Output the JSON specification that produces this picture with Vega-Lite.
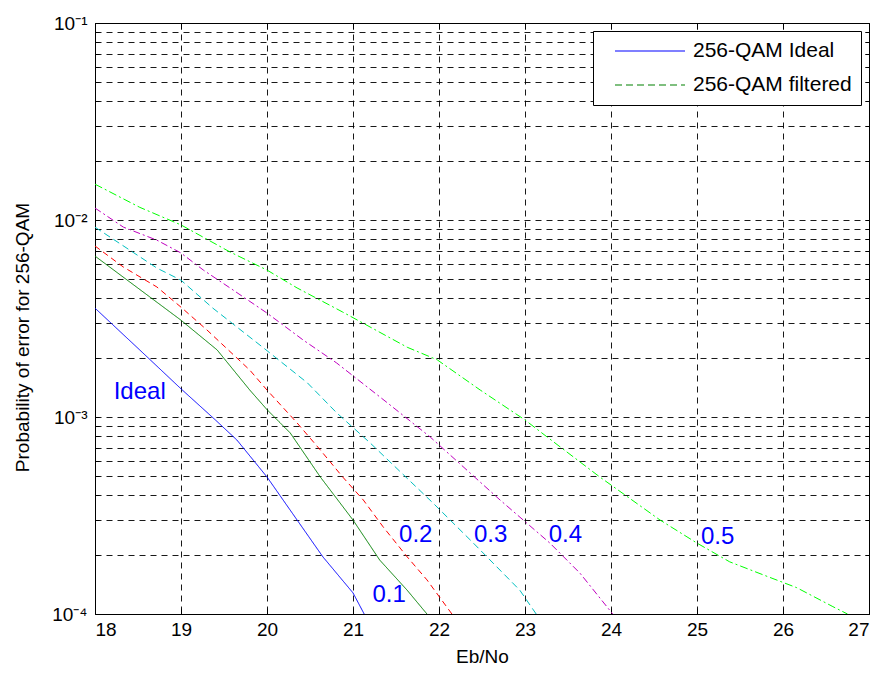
{
  "$schema": "https://vega.github.io/schema/vega-lite/v6.json",
  "width": 774,
  "height": 591,
  "autosize": {"type": "none"},
  "padding": {"left": 95, "top": 23, "right": 13, "bottom": 68},
  "background": "white",
  "config": {
    "font": "Liberation Sans",
    "view": {"stroke": "#000", "strokeWidth": 1},
    "axis": {
      "labelColor": "#000",
      "titleColor": "#000",
      "tickColor": "#000",
      "gridColor": "#000",
      "gridDash": [6, 5],
      "gridOpacity": 0.9,
      "domain": false,
      "titleFontWeight": "normal"
    }
  },
  "datasets": {
    "curves": [
      {"s": "Ideal", "x": 18, "p": 3.57e-3},
      {"s": "Ideal", "x": 18.52, "p": 2.19e-3},
      {"s": "Ideal", "x": 19, "p": 1.39e-3},
      {"s": "Ideal", "x": 19.4, "p": 9.66e-4},
      {"s": "Ideal", "x": 19.65, "p": 7.64e-4},
      {"s": "Ideal", "x": 20, "p": 4.96e-4},
      {"s": "Ideal", "x": 20.35, "p": 3.0e-4},
      {"s": "Ideal", "x": 20.65, "p": 1.95e-4},
      {"s": "Ideal", "x": 21, "p": 1.28e-4},
      {"s": "Ideal", "x": 21.13, "p": 1.0e-4},
      {"s": "0.1", "x": 18, "p": 6.56e-3},
      {"s": "0.1", "x": 19, "p": 3.1e-3},
      {"s": "0.1", "x": 19.42, "p": 2.19e-3},
      {"s": "0.1", "x": 19.8, "p": 1.37e-3},
      {"s": "0.1", "x": 20, "p": 1.09e-3},
      {"s": "0.1", "x": 20.27, "p": 8.3e-4},
      {"s": "0.1", "x": 20.62, "p": 4.96e-4},
      {"s": "0.1", "x": 21, "p": 3.0e-4},
      {"s": "0.1", "x": 21.31, "p": 1.88e-4},
      {"s": "0.1", "x": 21.63, "p": 1.32e-4},
      {"s": "0.1", "x": 21.86, "p": 1.0e-4},
      {"s": "0.2", "x": 18, "p": 7.38e-3},
      {"s": "0.2", "x": 18.33, "p": 5.77e-3},
      {"s": "0.2", "x": 18.72, "p": 4.57e-3},
      {"s": "0.2", "x": 19, "p": 3.61e-3},
      {"s": "0.2", "x": 19.3, "p": 2.77e-3},
      {"s": "0.2", "x": 19.8, "p": 1.73e-3},
      {"s": "0.2", "x": 20, "p": 1.37e-3},
      {"s": "0.2", "x": 20.35, "p": 9.33e-4},
      {"s": "0.2", "x": 20.62, "p": 6.8e-4},
      {"s": "0.2", "x": 20.88, "p": 4.96e-4},
      {"s": "0.2", "x": 21.12, "p": 3.79e-4},
      {"s": "0.2", "x": 21.35, "p": 2.77e-4},
      {"s": "0.2", "x": 21.63, "p": 1.95e-4},
      {"s": "0.2", "x": 21.86, "p": 1.49e-4},
      {"s": "0.2", "x": 22.15, "p": 1.0e-4},
      {"s": "0.3", "x": 18, "p": 9.2e-3},
      {"s": "0.3", "x": 18.72, "p": 5.7e-3},
      {"s": "0.3", "x": 19, "p": 4.95e-3},
      {"s": "0.3", "x": 19.37, "p": 3.57e-3},
      {"s": "0.3", "x": 19.95, "p": 2.26e-3},
      {"s": "0.3", "x": 20.47, "p": 1.49e-3},
      {"s": "0.3", "x": 20.81, "p": 1.05e-3},
      {"s": "0.3", "x": 21.2, "p": 7.38e-4},
      {"s": "0.3", "x": 21.93, "p": 3.66e-4},
      {"s": "0.3", "x": 22.4, "p": 2.29e-4},
      {"s": "0.3", "x": 22.94, "p": 1.32e-4},
      {"s": "0.3", "x": 23.13, "p": 1.0e-4},
      {"s": "0.4", "x": 18, "p": 1.15e-2},
      {"s": "0.4", "x": 18.33, "p": 9.2e-3},
      {"s": "0.4", "x": 18.72, "p": 7.9e-3},
      {"s": "0.4", "x": 19, "p": 6.8e-3},
      {"s": "0.4", "x": 19.26, "p": 5.57e-3},
      {"s": "0.4", "x": 19.57, "p": 4.52e-3},
      {"s": "0.4", "x": 20, "p": 3.37e-3},
      {"s": "0.4", "x": 20.42, "p": 2.46e-3},
      {"s": "0.4", "x": 20.81, "p": 1.88e-3},
      {"s": "0.4", "x": 21.4, "p": 1.18e-3},
      {"s": "0.4", "x": 21.9, "p": 7.9e-4},
      {"s": "0.4", "x": 22.71, "p": 3.79e-4},
      {"s": "0.4", "x": 23.29, "p": 2.29e-4},
      {"s": "0.4", "x": 23.64, "p": 1.61e-4},
      {"s": "0.4", "x": 24.02, "p": 1.0e-4},
      {"s": "0.5", "x": 18, "p": 1.52e-2},
      {"s": "0.5", "x": 18.52, "p": 1.16e-2},
      {"s": "0.5", "x": 19, "p": 9.44e-3},
      {"s": "0.5", "x": 19.57, "p": 6.88e-3},
      {"s": "0.5", "x": 20, "p": 5.57e-3},
      {"s": "0.5", "x": 20.35, "p": 4.52e-3},
      {"s": "0.5", "x": 20.88, "p": 3.41e-3},
      {"s": "0.5", "x": 21.63, "p": 2.26e-3},
      {"s": "0.5", "x": 21.98, "p": 1.95e-3},
      {"s": "0.5", "x": 22.48, "p": 1.37e-3},
      {"s": "0.5", "x": 23.0, "p": 9.66e-4},
      {"s": "0.5", "x": 23.26, "p": 7.9e-4},
      {"s": "0.5", "x": 23.87, "p": 4.96e-4},
      {"s": "0.5", "x": 24.57, "p": 3.0e-4},
      {"s": "0.5", "x": 25, "p": 2.29e-4},
      {"s": "0.5", "x": 25.38, "p": 1.84e-4},
      {"s": "0.5", "x": 25.77, "p": 1.58e-4},
      {"s": "0.5", "x": 26.16, "p": 1.36e-4},
      {"s": "0.5", "x": 26.58, "p": 1.09e-4},
      {"s": "0.5", "x": 26.75, "p": 1.0e-4}
    ],
    "labels": [
      {"t": "Ideal", "x": 18.52, "p": 1.34e-3},
      {"t": "0.1", "x": 21.42, "p": 1.25e-4},
      {"t": "0.2", "x": 21.73, "p": 2.52e-4},
      {"t": "0.3", "x": 22.6, "p": 2.52e-4},
      {"t": "0.4", "x": 23.47, "p": 2.52e-4},
      {"t": "0.5", "x": 25.24, "p": 2.46e-4}
    ]
  },
  "resolve": {"axis": {"x": "independent", "y": "independent"}},
  "layer": [
    {
      "data": {"name": "curves"},
      "mark": {"type": "line", "strokeWidth": 1, "clip": true},
      "encoding": {
        "x": {
          "field": "x", "type": "quantitative",
          "scale": {"domain": [18, 27], "nice": false, "zero": false},
          "axis": {
            "values": [18, 19, 20, 21, 22, 23, 24, 25, 26, 27],
            "grid": true, "tickSize": -6, "labelFontSize": 19, "labelPadding": 12,
            "title": "Eb/No", "titleFontSize": 19, "titlePadding": 8
          }
        },
        "y": {
          "field": "p", "type": "quantitative",
          "scale": {"type": "log", "domain": [0.0001, 0.1], "nice": false},
          "axis": {
            "values": [0.0001, 0.0002, 0.0003, 0.0004, 0.0005, 0.0006, 0.0007, 0.0008, 0.0009, 0.001, 0.002, 0.003, 0.004, 0.005, 0.006, 0.007, 0.008, 0.009, 0.01, 0.02, 0.03, 0.04, 0.05, 0.06, 0.07, 0.08, 0.09, 0.1],
            "labelExpr": "datum.value == 0.1 ? '10⁻¹' : datum.value == 0.01 ? '10⁻²' : datum.value == 0.001 ? '10⁻³' : datum.value == 0.0001 ? '10⁻⁴' : ''",
            "grid": true, "tickSize": -4, "labelFontSize": 19, "labelPadding": 12,
            "title": "Probability of error for 256-QAM", "titleFontSize": 19,
            "titleX": -73, "titleY": 314, "titleBaseline": "middle", "titleAlign": "center", "titleAngle": -90
          }
        },
        "color": {
          "field": "s", "type": "nominal",
          "scale": {
            "domain": ["Ideal", "0.1", "0.2", "0.3", "0.4", "0.5"],
            "range": ["#0000ff", "#008000", "#ff0000", "#00bfbf", "#bf00bf", "#00ff00"]
          },
          "legend": {
            "values": ["Ideal", "0.1"],
            "labelExpr": "datum.value == 'Ideal' ? '256-QAM Ideal' : '256-QAM filtered'",
            "title": null,
            "orient": "top-right",
            "offset": 8,
            "padding": 9,
            "strokeColor": "#000",
            "fillColor": "#fff",
            "symbolType": "stroke",
            "symbolSize": 4900,
            "symbolOffset": 12,
            "symbolStrokeWidth": 1.2,
            "clipHeight": 22,
            "labelFontSize": 21,
            "labelOffset": 7,
            "labelColor": "#000",
            "rowPadding": 12
          }
        },
        "strokeDash": {
          "field": "s", "type": "nominal",
          "scale": {
            "domain": ["Ideal", "0.1", "0.2", "0.3", "0.4", "0.5"],
            "range": [[1, 0], [7, 4], [6, 4], [7, 4], [7, 3, 2, 3], [8, 3, 2, 3]]
          },
          "condition": {"test": "datum.s == '0.1'", "value": [1, 0]},
          "legend": {
            "values": ["Ideal", "0.1"],
            "labelExpr": "datum.value == 'Ideal' ? '256-QAM Ideal' : '256-QAM filtered'",
            "title": null,
            "orient": "top-right",
            "offset": 8,
            "padding": 9,
            "strokeColor": "#000",
            "fillColor": "#fff",
            "symbolType": "stroke",
            "symbolSize": 4900,
            "symbolOffset": 12,
            "symbolStrokeWidth": 1.2,
            "clipHeight": 22,
            "labelFontSize": 21,
            "labelOffset": 7,
            "labelColor": "#000",
            "rowPadding": 12
          }
        }
      }
    },
    {
      "data": {"name": "labels"},
      "mark": {"type": "text", "color": "#0000ff", "fontSize": 24, "align": "center", "baseline": "middle"},
      "encoding": {
        "x": {
          "field": "x", "type": "quantitative",
          "axis": {"orient": "top", "values": [18, 19, 20, 21, 22, 23, 24, 25, 26, 27], "labels": false, "grid": false, "tickSize": -6, "title": null}
        },
        "y": {
          "field": "p", "type": "quantitative",
          "axis": {
            "orient": "right",
            "values": [0.0001, 0.0002, 0.0003, 0.0004, 0.0005, 0.0006, 0.0007, 0.0008, 0.0009, 0.001, 0.002, 0.003, 0.004, 0.005, 0.006, 0.007, 0.008, 0.009, 0.01, 0.02, 0.03, 0.04, 0.05, 0.06, 0.07, 0.08, 0.09, 0.1],
            "labels": false, "grid": false, "tickSize": -4, "title": null
          }
        },
        "text": {"field": "t", "type": "nominal"}
      }
    }
  ]
}
